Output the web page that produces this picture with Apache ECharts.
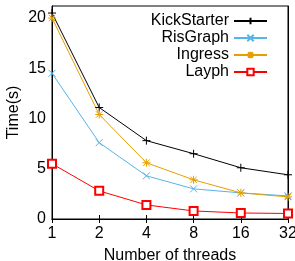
<!DOCTYPE html>
<html>
<head>
<meta charset="utf-8">
<script src="https://cdn.jsdelivr.net/npm/echarts@6/dist/echarts.min.js"></script>
<style>
  html, body { margin: 0; padding: 0; background: #fff; }
  #chart { width: 295px; height: 261px; }
</style>
</head>
<body>
<div id="chart"></div>
<script>
// données
const threads = ['1', '2', '4', '8', '16', '32'];
const kickStarter = [20.5, 11.1, 7.8, 6.5, 5.1, 4.4];
const risGraph = [14.5, 7.6, 4.3, 3.0, 2.6, 2.3];
const ingress = [20.0, 10.4, 5.6, 3.9, 2.6, 2.2];
const layph = [5.5, 2.8, 1.4, 0.8, 0.6, 0.55];

const FONT = 'Liberation Sans';
const plus = 'path://M0,5L10,5M5,0L5,10';
const cross = 'path://M0,0L10,10M10,0L0,10';
const star = 'path://M0,5L10,5M5,0L5,10M1,1L9,9M9,1L1,9';

function mkSeries(name, data, color, symbol, size) {
    return {
        name: name,
        type: 'line',
        data: data,
        symbol: symbol,
        symbolSize: size,
        showAllSymbol: true,
        lineStyle: { color: color, width: 1 },
        itemStyle: { color: color, borderColor: color, borderWidth: 1 },
        emphasis: { disabled: true },
        animation: false
    };
}

const chart = echarts.init(document.getElementById('chart'));
const tickStyle = { inside: true, length: 4, lineStyle: { color: '#000' } };
const txt = { fontFamily: FONT, fontSize: 16, color: '#000' };

chart.setOption({
    backgroundColor: '#fff',
    grid: {
        left: 52, right: 7, top: 6, bottom: 42,
        outerBoundsMode: 'none',
        show: true, borderColor: '#000', borderWidth: 1
    },
    legend: {
        right: 22,
        top: 8,
        orient: 'vertical',
        align: 'right',
        itemGap: 1,
        itemWidth: 33,
        itemHeight: 8,
        textStyle: Object.assign({ padding: [0, 0, 0, 0] }, txt),
        data: ['KickStarter', 'RisGraph', 'Ingress', 'Layph']
    },
    xAxis: [{
        type: 'category',
        data: threads,
        boundaryGap: false,
        name: 'Number of threads',
        nameLocation: 'middle',
        nameGap: 29,
        nameMoveOverlap: false,
        nameTextStyle: txt,
        axisLine: { lineStyle: { color: '#000' } },
        axisTick: tickStyle,
        axisLabel: Object.assign({ margin: 7 }, txt),
        splitLine: { show: false }
    }, {
        type: 'category',
        data: threads,
        boundaryGap: false,
        position: 'top',
        axisLine: { lineStyle: { color: '#000' } },
        axisTick: tickStyle,
        axisLabel: { show: false }
    }],
    yAxis: [{
        type: 'value',
        min: 0,
        max: 21.2,
        interval: 5,
        name: 'Time(s)',
        nameLocation: 'middle',
        nameGap: 30,
        nameMoveOverlap: false,
        nameTextStyle: txt,
        axisLine: { show: true, lineStyle: { color: '#000' } },
        axisTick: tickStyle,
        axisLabel: Object.assign({ margin: 6, showMaxLabel: false }, txt),
        splitLine: { show: false }
    }, {
        type: 'value',
        min: 0,
        max: 21.2,
        interval: 5,
        position: 'right',
        axisLine: { show: true, lineStyle: { color: '#000' } },
        axisTick: tickStyle,
        axisLabel: { show: false },
        splitLine: { show: false }
    }],
    series: [
        mkSeries('KickStarter', kickStarter, '#000000', plus, 8),
        mkSeries('RisGraph', risGraph, '#56b4e9', cross, 7),
        mkSeries('Ingress', ingress, '#e69f00', star, 8),
        mkSeries('Layph', layph, '#ff0000', 'emptyRect', 8)
    ]
});
</script>
</body>
</html>
